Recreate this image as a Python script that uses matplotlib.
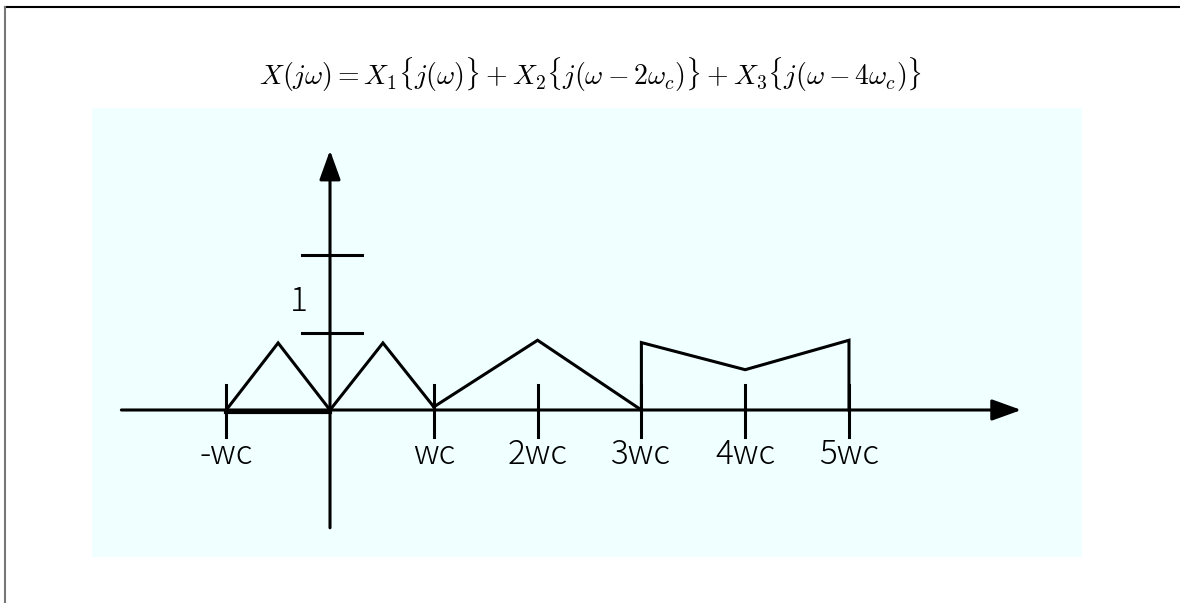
import matplotlib.pyplot as plt
from matplotlib.lines import Line2D
from matplotlib.patches import FancyArrowPatch

plt.rcParams["mathtext.fontset"] = "cm"

# frequency axis in units of wc
tick_pos = [-1, 1, 2, 3, 4, 5]
tick_labels = ["-wc", "wc", "2wc", "3wc", "4wc", "5wc"]
level_ticks = [1, 2]

# X1: two triangles around the origin
x1_w = [-1, -0.5, 0, 0.51, 1]
x1_mag = [0, 0.865, 0, 0.865, 0.04]
x1_base_w = [-1, 0]
x1_base_mag = [-0.02, -0.02]

# X2: shifted by 2wc
x2_w = [1, 2, 3]
x2_mag = [0.04, 0.90, 0]

# X3: shifted by 4wc
x3_w = [3, 3, 4, 5, 5]
x3_mag = [0, 0.87, 0.52, 0.90, 0]

LW = 2.2
LABEL_FONT = ["Noto Sans CJK JP", "DejaVu Sans"]

fig = plt.figure(figsize=(11.8, 6.03), dpi=100)
W, H = 1180, 603

# page frame
fig.add_artist(Line2D([5 / W, 1], [1 - 7 / H, 1 - 7 / H], color="black", lw=1.5))
fig.add_artist(Line2D([5 / W, 5 / W], [0, 1 - 7 / H], color="#777777", lw=1.5))

fig.text(591 / W, 1 - 75 / H,
         r"$X(j\omega) = X_1\{j(\omega)\} + X_2\{j(\omega - 2\omega_c)\}"
         r" + X_3\{j(\omega - 4\omega_c)\}$",
         ha="center", va="center", fontsize=20)

ax = fig.add_axes([92 / W, 1 - 557 / H, 990 / W, 449 / H])
ax.set_facecolor("#F0FFFF")
for s in ax.spines.values():
    s.set_visible(False)
ax.set_xticks([])
ax.set_yticks([])
ax.set_xlim(-2.293, 7.245)
ax.set_ylim(-1.897, 3.897)

# axes with arrow heads
arrow_style = "-|>,head_length=1.8,head_width=0.65"
ax.add_patch(FancyArrowPatch((-2.01, 0), (6.66, 0), arrowstyle=arrow_style,
                             mutation_scale=10, lw=LW, color="black",
                             shrinkA=0, shrinkB=0))
ax.add_patch(FancyArrowPatch((0, -1.52), (0, 3.35), arrowstyle=arrow_style,
                             mutation_scale=10, lw=LW, color="black",
                             shrinkA=0, shrinkB=0))

# tick marks and labels on the frequency axis
for p, lab in zip(tick_pos, tick_labels):
    ax.plot([p, p], [-0.35, 0.32], color="black", lw=LW)
    ax.text(p, -0.58, lab, ha="center", va="center", fontsize=24,
            family=LABEL_FONT, fontweight="light")

# level marks on the vertical axis
for lv in level_ticks:
    ax.plot([-0.27, 0.31], [lv, lv], color="black", lw=LW)
ax.text(-0.30, 1.40, "1", ha="center", va="center", fontsize=24,
        family=LABEL_FONT, fontweight="light")

ax.plot(x1_w, x1_mag, color="black", lw=LW, solid_joinstyle="miter")
ax.plot(x1_base_w, x1_base_mag, color="black", lw=LW + 0.8)
ax.plot(x2_w, x2_mag, color="black", lw=LW, solid_joinstyle="miter")
ax.plot(x3_w, x3_mag, color="black", lw=LW, solid_joinstyle="miter")

fig.savefig("out.png", dpi=100)
